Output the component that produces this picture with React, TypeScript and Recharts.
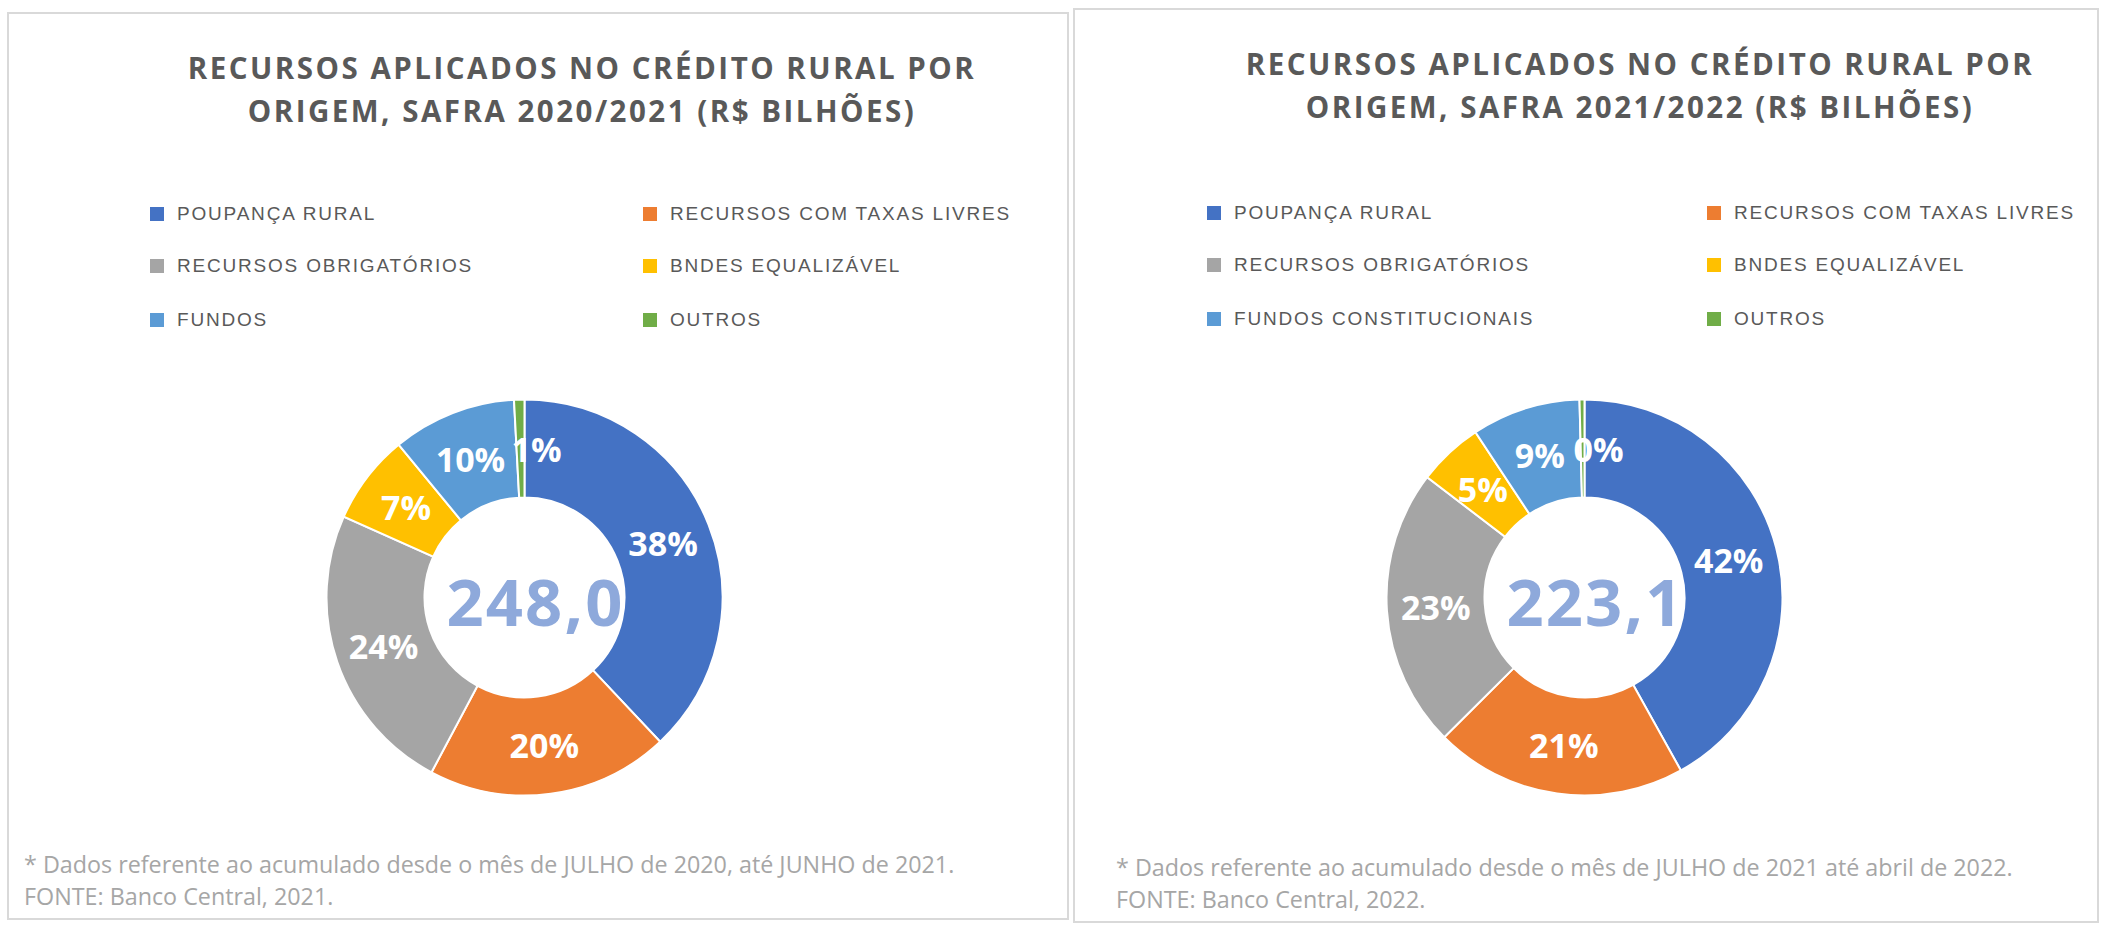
import React from 'react';
import { PieChart, Pie, Cell, Legend } from 'recharts';

// ---------- DATA ----------
const categories2021 = [
  'POUPANÇA RURAL',
  'RECURSOS COM TAXAS LIVRES',
  'RECURSOS OBRIGATÓRIOS',
  'BNDES EQUALIZÁVEL',
  'FUNDOS',
  'OUTROS',
];
const values2021 = [94.2, 49.1, 59.3, 18.2, 25.1, 2.1]; // R$ bilhões, total 248,0

const categories2022 = [
  'POUPANÇA RURAL',
  'RECURSOS COM TAXAS LIVRES',
  'RECURSOS OBRIGATÓRIOS',
  'BNDES EQUALIZÁVEL',
  'FUNDOS CONSTITUCIONAIS',
  'OUTROS',
];
const values2022 = [93.5, 46.0, 51.0, 11.9, 19.8, 0.9]; // R$ bilhões, total 223,1

const sliceColors = ['#4472C4', '#ED7D31', '#A5A5A5', '#FFC000', '#5B9BD5', '#70AD47'];

const titles2021 = ['RECURSOS APLICADOS NO CRÉDITO RURAL POR', 'ORIGEM, SAFRA 2020/2021 (R$ BILHÕES)'];
const titles2022 = ['RECURSOS APLICADOS NO CRÉDITO RURAL POR', 'ORIGEM, SAFRA 2021/2022 (R$ BILHÕES)'];

const notes2021 = [
  '* Dados referente ao acumulado desde o mês de JULHO de 2020, até JUNHO de 2021.',
  'FONTE: Banco Central, 2021.',
];
const notes2022 = [
  '* Dados referente ao acumulado desde o mês de JULHO de 2021 até abril de 2022.',
  'FONTE: Banco Central, 2022.',
];

// ---------- LAYOUT ----------
const FONT = '"Open Sans", "Noto Sans", sans-serif';
const LEGEND_FONT = '"Liberation Sans", Arial, sans-serif';
const RAD = Math.PI / 180;

type PanelLayout = {
  left: number;
  top: number;
  width: number;
  height: number;
  cx: number;
  cy: number;
  titleX: number;
  titleY: number;
  legendRows: number[];
  legendCols: number[];
  noteX: number;
  noteY: number;
};

const layout1: PanelLayout = {
  left: 7,
  top: 12,
  width: 1062,
  height: 908,
  cx: 517.5,
  cy: 585.5,
  titleX: 575,
  titleY: 55,
  legendRows: [202, 254, 308],
  legendCols: [143, 636],
  noteX: 17,
  noteY: 852,
};

const layout2: PanelLayout = {
  left: 1073,
  top: 8,
  width: 1026,
  height: 915,
  cx: 511.5,
  cy: 589.5,
  titleX: 567,
  titleY: 55,
  legendRows: [205, 257, 311],
  legendCols: [134, 634],
  noteX: 43,
  noteY: 859,
};

const renderPct = (props: any) => {
  const { cx, cy, midAngle, innerRadius, outerRadius, percent } = props;
  const r = (innerRadius + outerRadius) / 2;
  const x = cx + r * Math.cos(-midAngle * RAD);
  const y = cy + r * Math.sin(-midAngle * RAD);
  const tiny = percent < 0.02;
  return (
    <text
      x={tiny ? x - 9 : x}
      y={y}
      fill="#FFFFFF"
      textAnchor={tiny ? 'start' : 'middle'}
      dominantBaseline="central"
      fontSize={34}
      fontWeight={700}
      fontFamily={FONT}
    >
      {`${Math.round(percent * 100)}%`}
    </text>
  );
};

const makeLegend = (lay: PanelLayout, categories: string[]) => () => (
  <div style={{ position: 'relative', width: lay.width, height: lay.height }}>
    {categories.map((name, i) => {
      const col = i % 2;
      const row = Math.floor(i / 2);
      return (
        <div
          key={name}
          style={{
            position: 'absolute',
            left: lay.legendCols[col],
            top: lay.legendRows[row] - 12,
            height: 24,
            display: 'flex',
            alignItems: 'center',
            whiteSpace: 'nowrap',
          }}
        >
          <div style={{ width: 14, height: 14, background: sliceColors[i], marginRight: 13 }} />
          <span
            style={{
              fontFamily: LEGEND_FONT,
              fontSize: 19,
              letterSpacing: 1.8,
              color: '#595959',
              lineHeight: '24px',
            }}
          >
            {name}
          </span>
        </div>
      );
    })}
  </div>
);

const Panel = ({
  lay,
  categories,
  values,
  titles,
  notes,
}: {
  lay: PanelLayout;
  categories: string[];
  values: number[];
  titles: string[];
  notes: string[];
}) => {
  const data = categories.map((name, i) => ({ name, value: values[i] }));
  const total = values.reduce((a, b) => a + b, 0);
  const totalText = total.toFixed(1).replace('.', ',');
  return (
    <div
      style={{
        position: 'absolute',
        left: lay.left,
        top: lay.top,
        width: lay.width,
        height: lay.height,
        boxSizing: 'border-box',
        border: '2px solid #D9D9D9',
        background: '#FFFFFF',
      }}
    >
      <div style={{ position: 'absolute', left: -2, top: -2, width: lay.width, height: lay.height }}>
        <PieChart width={lay.width} height={lay.height} margin={{ top: 0, right: 0, bottom: 0, left: 0 }}>
          <Pie
            data={data}
            dataKey="value"
            nameKey="name"
            cx={lay.cx}
            cy={lay.cy}
            innerRadius={100}
            outerRadius={198}
            startAngle={90}
            endAngle={-270}
            stroke="#FFFFFF"
            strokeWidth={2}
            label={renderPct}
            labelLine={false}
            isAnimationActive={false}
          >
            {data.map((d, i) => (
              <Cell key={d.name} fill={sliceColors[i]} />
            ))}
          </Pie>
          <Legend
            layout="horizontal"
            verticalAlign="middle"
            align="center"
            content={makeLegend(lay, categories)}
            wrapperStyle={{ position: 'absolute', left: 0, top: 0, width: lay.width, height: lay.height, pointerEvents: 'none' }}
          />
        </PieChart>

        {/* Title */}
        <div
          style={{
            position: 'absolute',
            left: lay.titleX - 550,
            top: lay.titleY - 21.5,
            width: 1100,
            textAlign: 'center',
            fontFamily: FONT,
            fontWeight: 700,
            fontSize: 29.5,
            letterSpacing: 2.5,
            lineHeight: '43px',
            color: '#595959',
            whiteSpace: 'nowrap',
          }}
        >
          {titles.map((t, i) => (
            <div key={i}>{t}</div>
          ))}
        </div>

        {/* Center total */}
        <div
          style={{
            position: 'absolute',
            left: lay.cx + 11 - 150,
            top: lay.cy + 3 - 33,
            width: 300,
            height: 66,
            textAlign: 'center',
            fontFamily: FONT,
            fontWeight: 700,
            fontSize: 65,
            letterSpacing: 2.2,
            lineHeight: '66px',
            color: '#8EA9DB',
          }}
        >
          {totalText}
        </div>

        {/* Notes */}
        <div
          style={{
            position: 'absolute',
            left: lay.noteX,
            top: lay.noteY - 16,
            fontFamily: FONT,
            fontSize: 23.3,
            lineHeight: '32px',
            color: '#A6A6A6',
            whiteSpace: 'nowrap',
          }}
        >
          {notes.map((t, i) => (
            <div key={i}>{t}</div>
          ))}
        </div>
      </div>
    </div>
  );
};

export default function App() {
  return (
    <div
      style={{
        position: 'absolute',
        left: 0,
        top: 0,
        width: 2103,
        height: 928,
        background: '#FFFFFF',
        overflow: 'hidden',
      }}
    >
      <Panel lay={layout1} categories={categories2021} values={values2021} titles={titles2021} notes={notes2021} />
      <Panel lay={layout2} categories={categories2022} values={values2022} titles={titles2022} notes={notes2022} />
    </div>
  );
}
